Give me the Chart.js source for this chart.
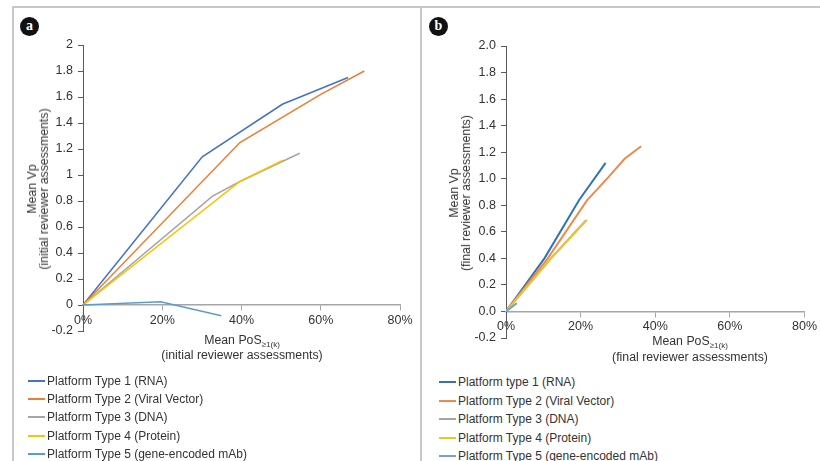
<!DOCTYPE html>
<html><head><meta charset="utf-8">
<script src="https://cdn.jsdelivr.net/npm/chart.js@4/dist/chart.umd.min.js"></script>
<style>
body{margin:0;width:820px;height:461px;background:#fff;position:relative;overflow:hidden;font-family:"Liberation Sans",Arial,sans-serif;color:#333}
canvas{position:absolute;top:0}
.hl{position:absolute;background:#c8c8c8}
.badge{position:absolute;width:19px;height:19px;border-radius:50%;background:#111;color:#fff;font:bold 14px "Liberation Serif","DejaVu Serif",serif;text-align:center;line-height:17px}
.t{position:absolute;font-size:12.3px;white-space:nowrap;transform:translate(-50%,-50%);text-align:center;line-height:14px}
.ty{position:absolute;font-size:12.3px;white-space:nowrap;transform:translate(-50%,-50%) rotate(-90deg);text-align:center;line-height:12px}
sub{font-size:8px;vertical-align:-3px}
.lg{position:absolute;font-size:12px;white-space:nowrap;line-height:14px;transform:translateY(-50%)}
.lg i{display:inline-block;width:17px;height:2px;vertical-align:middle;margin-right:2px;margin-top:-2px}
</style></head>
<body>
<div class="hl" style="left:12px;top:6px;width:808px;height:1.5px"></div>
<div class="hl" style="left:12px;top:6px;width:1.5px;height:455px"></div>
<div class="hl" style="left:420px;top:6px;width:1.5px;height:455px"></div>
<div class="badge" style="left:20px;top:17px">a</div>
<div class="badge" style="left:429px;top:17px">b</div>
<canvas id="ca" width="420" height="370" style="left:0;width:420px;height:370px"></canvas>
<canvas id="cb" width="399" height="370" style="left:421px;width:399px;height:370px"></canvas>
<div class="t" style="left:242px;top:342px">Mean PoS<sub>≥1(k)</sub></div>
<div class="t" style="left:242px;top:355px">(initial reviewer assessments)</div>
<div class="ty" style="left:38px;top:189px">Mean Vp<br>(initial reviewer assessments)</div>
<div class="t" style="left:690px;top:343px">Mean PoS<sub>≥1(k)</sub></div>
<div class="t" style="left:690px;top:357px">(final reviewer assessments)</div>
<div class="ty" style="left:460px;top:193px">Mean Vp<br>(final reviewer assessments)</div>
<div id="lga"></div>
<div id="lgb"></div>
<script>
// ---- Panel a (initial reviewer assessments) ----
const labelsA = ["Platform Type 1 (RNA)","Platform Type 2 (Viral Vector)","Platform Type 3 (DNA)","Platform Type 4 (Protein)","Platform Type 5 (gene-encoded mAb)"];
const colorsA = ["#4472C4","#ED7D31","#A5A5A5","#FFC000","#5B9BD5"];
const a1x = [0, 0.301, 0.503, 0.669];
const a1y = [0, 1.14, 1.544, 1.75];
const a2x = [0, 0.396, 0.60, 0.71];
const a2y = [0, 1.25, 1.62, 1.80];
const a3x = [0, 0.327, 0.396, 0.547];
const a3y = [0, 0.838, 0.95, 1.167];
const a4x = [0, 0.396, 0.505];
const a4y = [0, 0.95, 1.115];
const a5x = [0, 0.196, 0.349];
const a5y = [0, 0.025, -0.082];
const yTicksA = [-0.2,0,0.2,0.4,0.6,0.8,1,1.2,1.4,1.6,1.8,2];
const xTicks = [0,0.2,0.4,0.6,0.8];

// ---- Panel b (final reviewer assessments) ----
const labelsB = ["Platform type 1 (RNA)","Platform Type 2 (Viral Vector)","Platform Type 3 (DNA)","Platform Type 4 (Protein)","Platform Type 5 (gene-encoded mAb)"];
const colorsB = ["#2E75B6","#EE8A4F","#A5A5A5","#F5C12A","#6BA6D6"];
const b1x = [0, 0.103, 0.196, 0.267];
const b1y = [0, 0.40, 0.84, 1.12];
const b2x = [0, 0.112, 0.217, 0.274, 0.318, 0.362];
const b2y = [0, 0.40, 0.837, 1.01, 1.15, 1.245];
const b3x = [0, 0.12, 0.214];
const b3y = [0, 0.40, 0.685];
const b4x = [0, 0.121, 0.217];
const b4y = [0, 0.40, 0.69];
const b5x = [0, 0.029];
const b5y = [0, 0.063];

function pts(xs, ys){ return xs.map((x,i)=>({x:x, y:ys[i]})); }

Chart.defaults.font.family = '"Liberation Sans", Arial, sans-serif';
Chart.defaults.font.size = 12.5;
Chart.defaults.color = '#333';

function makeChart(id, series, labels, colors, yFmt, yWidth, pad, lw){
  const datasets = series.map((s,i)=>({
    label: labels[i], data: pts(s[0], s[1]), borderColor: colors[i], backgroundColor: colors[i],
    showLine: true, pointRadius: 0, borderWidth: lw, tension: 0, order: i===2 ? 10 : (5-i)
  }));
  return new Chart(document.getElementById(id), {
    type: 'scatter',
    data: { datasets },
    options: {
      responsive: false, animation: false, devicePixelRatio: 1,
      layout: { padding: pad },
      plugins: { legend: {display:false}, tooltip: {enabled:false} },
      scales: {
        x: {
          type: 'linear', min: 0, max: 0.8, position: {y: 0},
          afterBuildTicks: s => { s.ticks = xTicks.map(v=>({value:v})); },
          ticks: { callback: v => Math.round(v*100)+'%', maxRotation: 0, autoSkip: false, padding: 3, color:'#333' },
          grid: { drawOnChartArea: false, drawTicks: true, tickLength: 5, color: '#a6a6a6' },
          border: { display: true, color: '#a6a6a6', width: 1.5 }
        },
        y: {
          type: 'linear', min: -0.2, max: 2,
          afterBuildTicks: s => { s.ticks = yTicksA.map(v=>({value:v})); },
          afterFit: s => { s.width = yWidth; },
          ticks: { callback: yFmt, autoSkip: false, padding: 5, color:'#333' },
          grid: { drawOnChartArea: false, drawTicks: true, tickLength: 5, color: '#595959' },
          border: { display: true, color: '#595959', width: 1 }
        }
      }
    }
  });
}

makeChart('ca', [[a1x,a1y],[a2x,a2y],[a3x,a3y],[a4x,a4y],[a5x,a5y]], labelsA, colorsA,
  v => String(Math.round(v*10)/10), 83, {left:0, top:45, right:20, bottom:39}, 1.5);
makeChart('cb', [[b1x,b1y],[b2x,b2y],[b3x,b3y],[b4x,b4y],[b5x,b5y]], labelsB, colorsB,
  v => (Math.round(v*10)/10).toFixed(1), 85, {left:0, top:46, right:10, bottom:32}, 2);

function legend(el, labels, colors, left, tops){
  const c = document.getElementById(el);
  labels.forEach((l,i)=>{
    const d = document.createElement('div');
    d.className = 'lg';
    d.style.left = left+'px'; d.style.top = tops[i]+'px';
    d.innerHTML = '<i style="background:'+colors[i]+'"></i>' + l;
    c.appendChild(d);
  });
}
legend('lga', labelsA, colorsA, 28, [381,399,417,436,454]);
legend('lgb', labelsB, colorsB, 439, [382,401,419,438,456]);
</script>
</body></html>
